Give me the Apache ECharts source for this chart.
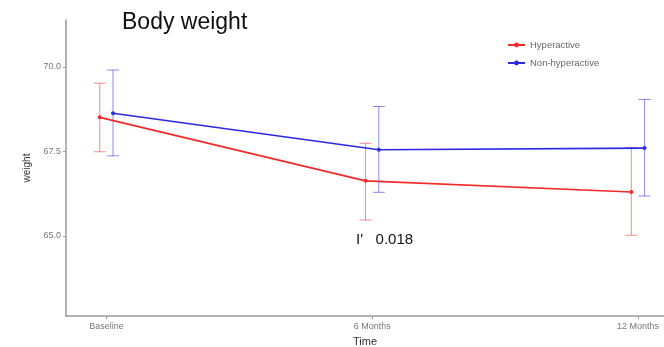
<!DOCTYPE html>
<html><head><meta charset="utf-8">
<script src="https://cdn.jsdelivr.net/npm/echarts@6/dist/echarts.min.js"></script>
<style>html,body{margin:0;padding:0;background:#fff}#c{width:664px;height:347px}</style>
</head><body><div id="c"></div>
<script>
var categories = ['Baseline', '6 Months', '12 Months'];
var hyperMean = [68.51, 66.63, 66.30];
var hyperLow  = [67.49, 65.47, 65.02];
var hyperHigh = [69.52, 67.74, 67.62];
var nonMean   = [68.63, 67.55, 67.60];
var nonLow    = [67.37, 66.29, 66.18];
var nonHigh   = [69.91, 68.83, 69.04];
var yTicks = [65.0, 67.5, 70.0];
var pText = "I'   0.018";

var dodge = 0.025;
var RED = '#f22a2a', BLUE = '#2a2ae6';
function pts(mean, off) { return mean.map(function (v, i) { return [i + 1 + off, v]; }); }
function errs(lo, hi, off) { return lo.map(function (v, i) { return [i + 1 + off, v, hi[i]]; }); }
function errSeries(name, data, color) {
  return {
    type: 'custom', name: name, data: data, z: 1, silent: true, color: color,
    renderItem: function (params, api) {
      var x = api.value(0);
      var p1 = api.coord([x, api.value(1)]);
      var p2 = api.coord([x, api.value(2)]);
      var w = 6;
      var st = { stroke: color, lineWidth: 1, opacity: 0.55 };
      return { type: 'group', children: [
        { type: 'line', shape: { x1: p1[0], y1: p1[1], x2: p2[0], y2: p2[1] }, style: st },
        { type: 'line', shape: { x1: p1[0] - w, y1: p1[1], x2: p1[0] + w, y2: p1[1] }, style: st },
        { type: 'line', shape: { x1: p2[0] - w, y1: p2[1], x2: p2[0] + w, y2: p2[1] }, style: st }
      ]};
    }
  };
}
var chart = echarts.init(document.getElementById('c'));
chart.setOption({
  animation: false,
  textStyle: { fontFamily: 'Liberation Sans, Arial, sans-serif' },
  title: { text: 'Body weight', left: 117, top: 6,
    textStyle: { fontSize: 23, fontWeight: 'normal', color: '#111' } },
  legend: { orient: 'vertical', left: 502, top: 35, itemGap: 8, itemWidth: 17, itemHeight: 6,
    data: ['Hyperactive', 'Non-hyperactive'],
    textStyle: { fontSize: 9.5, color: '#666' } },
  grid: { left: 66, top: 20, right: 0, bottom: 31, containLabel: false, outerBoundsMode: 'none' },
  xAxis: {
    type: 'value', min: 0.848, max: 3.098,
    name: 'Time', nameLocation: 'middle', nameGap: 20,
    nameTextStyle: { fontSize: 11, color: '#333' },
    axisLine: { lineStyle: { color: '#999', width: 1.5 } },
    axisTick: { show: true, length: 3, customValues: [1, 2, 3], lineStyle: { color: '#999' } },
    axisLabel: { customValues: [1, 2, 3], fontSize: 9, color: '#777', margin: 6,
      formatter: function (v) { return categories[Math.round(v) - 1] || ''; } },
    splitLine: { show: false }
  },
  yAxis: {
    type: 'value', min: 62.63, max: 71.39,
    name: 'weight', nameLocation: 'middle', nameGap: 30, nameRotate: 90,
    nameTextStyle: { fontSize: 10, color: '#333' },
    axisLine: { show: true, lineStyle: { color: '#999', width: 1.5 } },
    axisTick: { show: true, length: 3, customValues: yTicks, lineStyle: { color: '#999' } },
    axisLabel: { customValues: yTicks, fontSize: 9, color: '#777', margin: 5,
      formatter: function (v) { return v.toFixed(1); } },
    splitLine: { show: false }
  },
  graphic: [{ type: 'text', left: 356, top: 232,
    style: { text: pText, fontSize: 15, fill: '#111', fontFamily: 'Liberation Sans, Arial, sans-serif' } }],
  series: [
    errSeries('Hyperactive error', errs(hyperLow, hyperHigh, -dodge), RED),
    errSeries('Non-hyperactive error', errs(nonLow, nonHigh, dodge), BLUE),
    { type: 'line', name: 'Hyperactive', data: pts(hyperMean, -dodge), z: 3,
      symbol: 'circle', symbolSize: 4, lineStyle: { color: RED, width: 1.7 }, itemStyle: { color: RED } },
    { type: 'line', name: 'Non-hyperactive', data: pts(nonMean, dodge), z: 3,
      symbol: 'circle', symbolSize: 4, lineStyle: { color: BLUE, width: 1.7 }, itemStyle: { color: BLUE } }
  ]
});
</script></body></html>
